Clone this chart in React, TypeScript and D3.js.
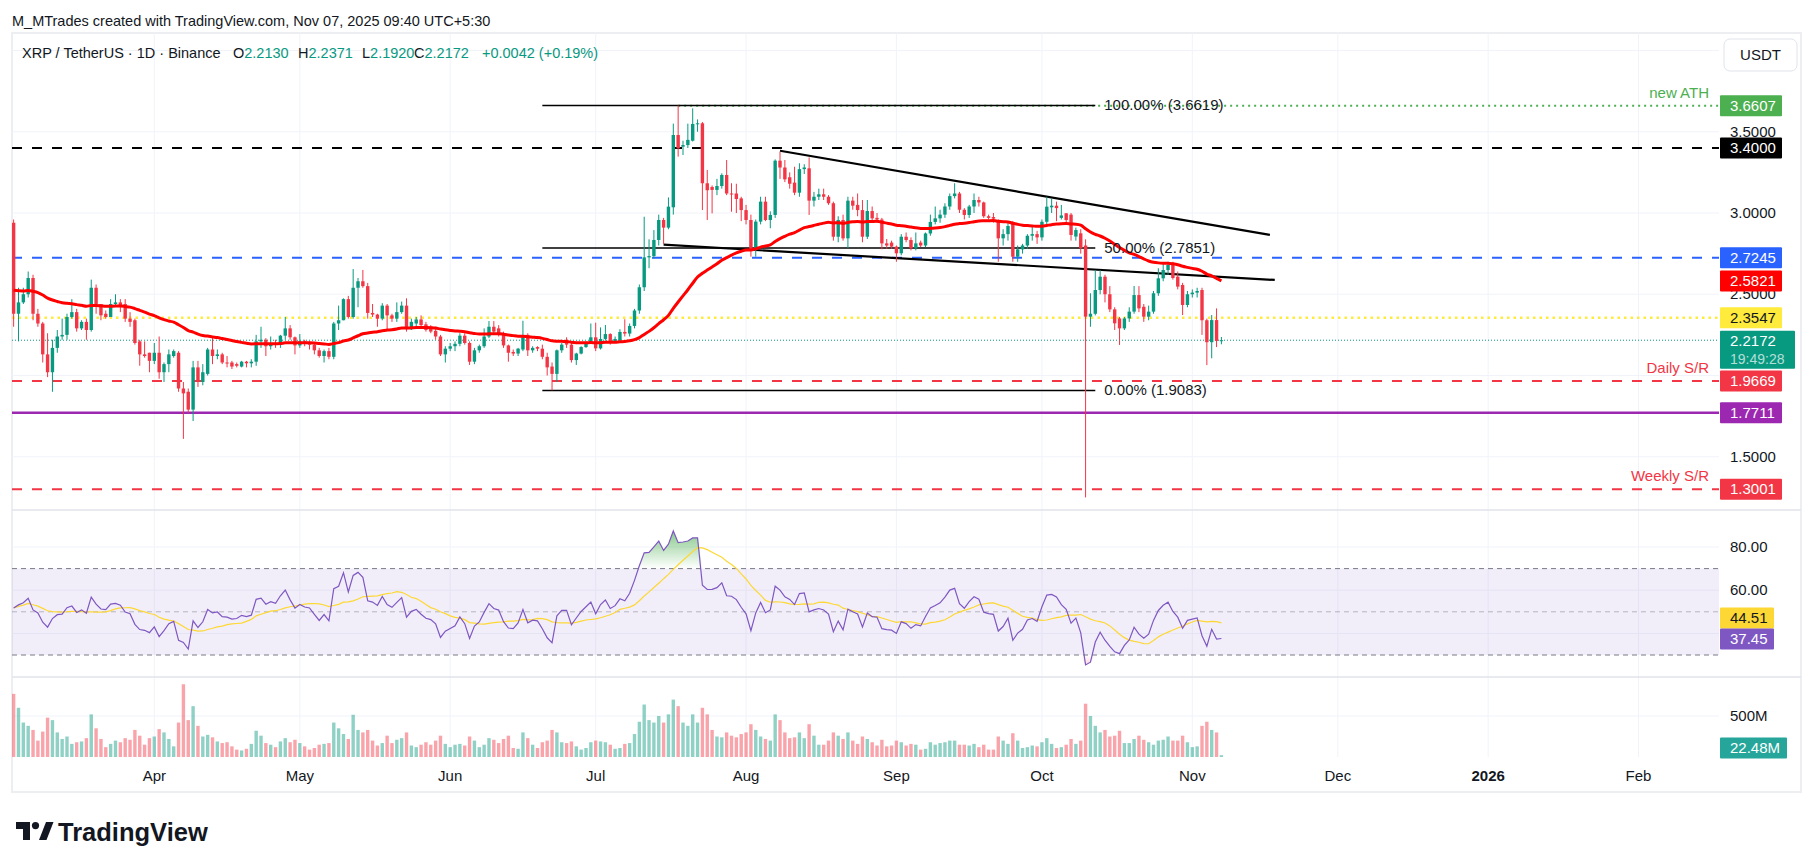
import React, { useMemo } from "react";
import * as d3 from "d3";

const FONT = "'Liberation Sans', Arial, sans-serif";

// ---------------- DATA ----------------
// daily candles: [day, open, high, low, close]
const candlesMar = [
  [3, 2.94, 2.96, 2.3, 2.38], [4, 2.38, 2.54, 2.21, 2.45], [5, 2.45, 2.54, 2.44, 2.5], [6, 2.5, 2.64, 2.48, 2.6],
  [7, 2.6, 2.62, 2.34, 2.38], [8, 2.38, 2.41, 2.3, 2.32], [9, 2.32, 2.33, 2.08, 2.13], [10, 2.13, 2.26, 1.99, 2.02],
  [11, 2.02, 2.22, 1.9, 2.17], [12, 2.17, 2.28, 2.14, 2.24], [13, 2.24, 2.35, 2.22, 2.25], [14, 2.25, 2.38, 2.22, 2.36],
  [15, 2.36, 2.47, 2.35, 2.39], [16, 2.39, 2.41, 2.27, 2.29], [17, 2.29, 2.34, 2.28, 2.33], [18, 2.33, 2.35, 2.22, 2.28],
  [19, 2.28, 2.59, 2.27, 2.54], [20, 2.54, 2.56, 2.38, 2.44], [21, 2.44, 2.44, 2.34, 2.37], [22, 2.38, 2.4, 2.35, 2.36],
  [23, 2.36, 2.47, 2.36, 2.44], [24, 2.44, 2.5, 2.43, 2.45], [25, 2.45, 2.47, 2.39, 2.43], [26, 2.44, 2.47, 2.33, 2.35],
  [27, 2.35, 2.39, 2.3, 2.33], [28, 2.34, 2.35, 2.19, 2.2], [29, 2.21, 2.22, 2.06, 2.13], [30, 2.13, 2.21, 2.11, 2.12],
  [31, 2.14, 2.14, 2.02, 2.09],
];
const candlesApr = [
  [1, 2.09, 2.2, 2.07, 2.14], [2, 2.14, 2.24, 1.98, 2.02], [3, 2.02, 2.08, 1.96, 2.07], [4, 2.07, 2.16, 2.02, 2.13],
  [5, 2.12, 2.16, 2.11, 2.15], [6, 2.14, 2.15, 1.9, 1.92], [7, 1.92, 1.96, 1.61, 1.89], [8, 1.9, 1.92, 1.77, 1.79],
  [9, 1.79, 2.09, 1.72, 2.05], [10, 2.05, 2.09, 1.93, 1.96], [11, 1.96, 2.07, 1.94, 2.02], [12, 2.01, 2.17, 2.0, 2.16],
  [13, 2.16, 2.24, 2.07, 2.12], [14, 2.12, 2.16, 2.1, 2.13], [15, 2.13, 2.14, 2.07, 2.08], [16, 2.08, 2.12, 2.05, 2.075],
  [17, 2.08, 2.09, 2.04, 2.055], [18, 2.07, 2.08, 2.05, 2.06], [19, 2.055, 2.09, 2.05, 2.085], [20, 2.085, 2.09, 2.05, 2.075],
  [21, 2.075, 2.1, 2.05, 2.085], [22, 2.085, 2.25, 2.06, 2.21], [23, 2.21, 2.3, 2.17, 2.22], [24, 2.22, 2.23, 2.12, 2.18],
  [25, 2.18, 2.24, 2.16, 2.2], [26, 2.2, 2.22, 2.17, 2.19], [27, 2.19, 2.25, 2.17, 2.245], [28, 2.245, 2.36, 2.22, 2.29],
  [29, 2.29, 2.31, 2.22, 2.235], [30, 2.235, 2.24, 2.13, 2.185],
];
const candlesMay = [
  [1, 2.185, 2.255, 2.17, 2.21], [2, 2.21, 2.22, 2.18, 2.195], [3, 2.195, 2.21, 2.16, 2.19], [4, 2.19, 2.2, 2.13, 2.155],
  [5, 2.155, 2.17, 2.11, 2.12], [6, 2.12, 2.16, 2.08, 2.15], [7, 2.15, 2.17, 2.1, 2.115], [8, 2.115, 2.33, 2.1, 2.32],
  [9, 2.32, 2.43, 2.28, 2.34], [10, 2.34, 2.475, 2.34, 2.47], [11, 2.47, 2.49, 2.35, 2.36], [12, 2.36, 2.655, 2.35, 2.54],
  [13, 2.54, 2.6, 2.42, 2.58], [14, 2.58, 2.65, 2.54, 2.55], [15, 2.55, 2.57, 2.35, 2.385], [16, 2.385, 2.44, 2.36, 2.375],
  [17, 2.375, 2.38, 2.3, 2.35], [18, 2.35, 2.445, 2.34, 2.43], [19, 2.43, 2.44, 2.285, 2.37], [20, 2.37, 2.38, 2.33, 2.35],
  [21, 2.35, 2.45, 2.33, 2.39], [22, 2.39, 2.455, 2.38, 2.43], [23, 2.43, 2.475, 2.27, 2.285], [24, 2.285, 2.35, 2.28, 2.33],
  [25, 2.32, 2.36, 2.3, 2.345], [26, 2.345, 2.37, 2.3, 2.31], [27, 2.315, 2.33, 2.27, 2.28], [28, 2.3, 2.31, 2.26, 2.27],
  [29, 2.275, 2.3, 2.22, 2.24], [30, 2.24, 2.25, 2.12, 2.13], [31, 2.13, 2.18, 2.08, 2.165],
];
const candlesJun = [
  [1, 2.165, 2.2, 2.15, 2.18], [2, 2.18, 2.21, 2.15, 2.195], [3, 2.195, 2.26, 2.18, 2.245], [4, 2.245, 2.26, 2.19, 2.2],
  [5, 2.2, 2.21, 2.065, 2.085], [6, 2.085, 2.17, 2.07, 2.155], [7, 2.155, 2.19, 2.14, 2.18], [8, 2.18, 2.29, 2.17, 2.24],
  [9, 2.24, 2.335, 2.23, 2.3], [10, 2.3, 2.335, 2.25, 2.27], [11, 2.29, 2.31, 2.24, 2.26], [12, 2.26, 2.27, 2.17, 2.185],
  [13, 2.185, 2.19, 2.085, 2.14], [14, 2.145, 2.16, 2.12, 2.135], [15, 2.135, 2.17, 2.12, 2.165], [16, 2.16, 2.337, 2.15, 2.24],
  [17, 2.25, 2.26, 2.12, 2.155], [18, 2.155, 2.18, 2.14, 2.17], [19, 2.175, 2.18, 2.15, 2.165], [20, 2.165, 2.19, 2.1, 2.115],
  [21, 2.115, 2.14, 2.0, 2.05], [22, 2.055, 2.08, 1.9083, 2.01], [23, 2.01, 2.16, 1.96, 2.155], [24, 2.155, 2.2, 2.14, 2.19],
  [25, 2.22, 2.235, 2.17, 2.19], [26, 2.19, 2.2, 2.08, 2.095], [27, 2.095, 2.14, 2.065, 2.135], [28, 2.135, 2.18, 2.13, 2.175],
  [29, 2.175, 2.21, 2.17, 2.205], [30, 2.205, 2.32, 2.2, 2.235],
];
const candlesJul = [
  [1, 2.235, 2.325, 2.15, 2.167], [2, 2.167, 2.296, 2.16, 2.225], [3, 2.225, 2.311, 2.215, 2.255], [4, 2.255, 2.26, 2.19, 2.208],
  [5, 2.208, 2.24, 2.2, 2.225], [6, 2.215, 2.285, 2.2, 2.268], [7, 2.268, 2.346, 2.24, 2.258], [8, 2.258, 2.32, 2.24, 2.305],
  [9, 2.305, 2.41, 2.29, 2.4], [10, 2.4, 2.56, 2.38, 2.543], [11, 2.543, 2.977, 2.52, 2.727], [12, 2.727, 2.838, 2.66, 2.735],
  [13, 2.735, 2.895, 2.72, 2.834], [14, 2.834, 2.99, 2.8, 2.957], [15, 2.957, 2.97, 2.81, 2.91], [16, 2.91, 3.096, 2.9, 3.039],
  [17, 3.035, 3.55, 2.99, 3.48], [18, 3.48, 3.6619, 3.347, 3.398], [19, 3.408, 3.445, 3.357, 3.418], [20, 3.418, 3.55, 3.4, 3.45],
  [21, 3.445, 3.644, 3.44, 3.548], [22, 3.548, 3.576, 3.5, 3.552], [23, 3.552, 3.56, 3.018, 3.183], [24, 3.183, 3.265, 2.957, 3.14],
  [25, 3.16, 3.17, 2.998, 3.142], [26, 3.142, 3.21, 3.11, 3.166], [27, 3.166, 3.244, 3.15, 3.234], [28, 3.234, 3.326, 3.11, 3.12],
  [29, 3.12, 3.183, 3.008, 3.115], [30, 3.12, 3.18, 3.0, 3.086], [31, 3.09, 3.1, 2.95, 3.018],
];
const candlesAug = [
  [1, 3.018, 3.05, 2.93, 2.957], [2, 2.957, 2.99, 2.731, 2.772], [3, 2.772, 2.96, 2.731, 2.947], [4, 2.947, 3.1, 2.93, 3.07],
  [5, 3.07, 3.1, 2.95, 2.957], [6, 2.957, 3.01, 2.906, 2.988], [7, 2.988, 3.33, 2.97, 3.322], [8, 3.322, 3.377, 3.21, 3.28],
  [9, 3.28, 3.326, 3.19, 3.207], [10, 3.22, 3.25, 3.15, 3.18], [11, 3.187, 3.285, 3.11, 3.125], [12, 3.125, 3.306, 3.1, 3.27],
  [13, 3.27, 3.3, 3.24, 3.28], [14, 3.275, 3.342, 2.988, 3.076], [15, 3.076, 3.13, 3.04, 3.1], [16, 3.1, 3.15, 3.08, 3.115],
  [17, 3.115, 3.15, 3.08, 3.1], [18, 3.1, 3.11, 3.05, 3.06], [19, 3.06, 3.07, 2.83, 2.854], [20, 2.854, 2.98, 2.82, 2.957],
  [21, 2.957, 2.99, 2.83, 2.844], [22, 2.844, 3.1, 2.783, 3.076], [23, 3.076, 3.1, 3.02, 3.045], [24, 3.05, 3.12, 2.98, 3.018],
  [25, 3.018, 3.08, 2.82, 2.854], [26, 2.854, 3.08, 2.84, 3.012], [27, 3.012, 3.04, 2.95, 2.967], [28, 2.97, 3.0, 2.94, 2.96],
  [29, 2.96, 2.97, 2.777, 2.813], [30, 2.813, 2.84, 2.78, 2.8], [31, 2.818, 2.83, 2.78, 2.793],
];
const candlesSep = [
  [1, 2.793, 2.8, 2.7, 2.752], [2, 2.752, 2.87, 2.74, 2.854], [3, 2.854, 2.88, 2.82, 2.834], [4, 2.834, 2.85, 2.77, 2.783],
  [5, 2.783, 2.88, 2.77, 2.813], [6, 2.818, 2.83, 2.79, 2.8], [7, 2.8, 2.88, 2.79, 2.874], [8, 2.874, 2.99, 2.86, 2.945],
  [9, 2.945, 3.04, 2.93, 2.967], [10, 2.967, 3.02, 2.94, 2.99], [11, 2.99, 3.06, 2.97, 3.04], [12, 3.04, 3.12, 3.02, 3.104],
  [13, 3.104, 3.183, 3.09, 3.12], [14, 3.12, 3.13, 3.0, 3.02], [15, 3.02, 3.03, 2.96, 2.988], [16, 2.988, 3.05, 2.97, 3.04],
  [17, 3.04, 3.12, 3.0, 3.08], [18, 3.08, 3.1, 3.04, 3.065], [19, 3.065, 3.07, 2.97, 2.98], [20, 2.98, 2.99, 2.96, 2.97],
  [21, 2.975, 3.0, 2.94, 2.965], [22, 2.957, 2.96, 2.7, 2.844], [23, 2.844, 2.9, 2.8, 2.87], [24, 2.87, 2.94, 2.83, 2.92],
  [25, 2.936, 2.95, 2.7, 2.731], [26, 2.731, 2.8, 2.7, 2.776], [27, 2.776, 2.81, 2.75, 2.8], [28, 2.8, 2.87, 2.78, 2.86],
  [29, 2.86, 2.926, 2.83, 2.87], [30, 2.87, 2.89, 2.81, 2.85],
];
const candlesOct = [
  [1, 2.85, 2.96, 2.83, 2.946], [2, 2.946, 3.1, 2.93, 3.039], [3, 3.035, 3.09, 3.0, 3.045], [4, 3.045, 3.07, 2.95, 3.03],
  [5, 2.97, 3.05, 2.96, 2.985], [6, 2.998, 3.0, 2.93, 2.957], [7, 2.99, 3.0, 2.83, 2.865], [8, 2.855, 2.91, 2.83, 2.895],
  [9, 2.875, 2.9, 2.75, 2.783], [10, 2.8, 2.838, 1.25, 2.362], [11, 2.362, 2.506, 2.3, 2.38], [12, 2.38, 2.649, 2.37, 2.526],
  [13, 2.526, 2.649, 2.5, 2.608], [14, 2.608, 2.62, 2.45, 2.5], [15, 2.5, 2.55, 2.39, 2.407], [16, 2.407, 2.42, 2.28, 2.321],
  [17, 2.351, 2.36, 2.188, 2.29], [18, 2.29, 2.36, 2.28, 2.351], [19, 2.351, 2.42, 2.33, 2.393], [20, 2.393, 2.551, 2.38, 2.495],
  [21, 2.495, 2.55, 2.39, 2.413], [22, 2.423, 2.44, 2.33, 2.362], [23, 2.362, 2.43, 2.34, 2.393], [24, 2.393, 2.52, 2.38, 2.506],
  [25, 2.506, 2.66, 2.49, 2.598], [26, 2.598, 2.69, 2.58, 2.649], [27, 2.649, 2.7, 2.62, 2.68], [28, 2.68, 2.7, 2.59, 2.6],
  [29, 2.608, 2.64, 2.53, 2.547], [30, 2.557, 2.57, 2.372, 2.434], [31, 2.434, 2.52, 2.42, 2.5],
];
const candlesNov = [
  [1, 2.5, 2.53, 2.48, 2.51], [2, 2.51, 2.54, 2.48, 2.52], [3, 2.526, 2.54, 2.25, 2.34], [4, 2.34, 2.35, 2.064, 2.205],
  [5, 2.205, 2.372, 2.106, 2.341], [6, 2.341, 2.413, 2.175, 2.213], [7, 2.213, 2.2371, 2.192, 2.2172],
];

// daily volume, millions of XRP
const volumesMar = [770, 600, 420, 380, 330, 200, 310, 480, 450, 300, 220, 250, 160, 180, 190, 230, 520, 350, 220, 120, 160, 200, 180, 230, 210, 330, 260, 150, 230];
const volumesApr = [250, 340, 300, 220, 130, 420, 887, 450, 620, 380, 250, 270, 240, 190, 170, 180, 130, 90, 80, 100, 160, 320, 260, 170, 150, 120, 190, 230, 180, 210];
const volumesMay = [170, 130, 90, 110, 150, 160, 170, 420, 350, 280, 220, 515, 330, 300, 330, 200, 140, 170, 260, 170, 210, 230, 300, 140, 120, 150, 180, 150, 200, 260, 160];
const volumesJun = [120, 150, 160, 140, 250, 200, 120, 150, 230, 210, 170, 220, 260, 110, 100, 300, 230, 150, 110, 180, 200, 330, 300, 180, 170, 190, 130, 90, 110, 180];
const volumesJul = [200, 190, 180, 150, 100, 110, 160, 170, 280, 430, 640, 450, 420, 500, 420, 520, 700, 620, 420, 380, 520, 420, 600, 520, 330, 250, 240, 300, 260, 240, 280];
const volumesAug = [300, 400, 330, 250, 220, 200, 520, 450, 300, 230, 240, 300, 230, 400, 260, 150, 150, 200, 300, 260, 220, 300, 200, 160, 250, 220, 180, 140, 210, 130, 140];
const volumesSep = [200, 180, 140, 160, 150, 90, 100, 180, 150, 170, 180, 200, 200, 150, 150, 140, 160, 120, 150, 90, 90, 250, 200, 160, 290, 200, 110, 120, 140, 130];
const volumesOct = [180, 230, 160, 110, 120, 150, 220, 160, 200, 650, 500, 380, 300, 330, 250, 260, 320, 170, 170, 220, 260, 210, 180, 150, 200, 210, 250, 200, 200, 260, 180];
const volumesNov = [120, 130, 380, 430, 330, 300, 22.48];

const monthTable = [
  { month: 2, candles: candlesMar, volumes: volumesMar },
  { month: 3, candles: candlesApr, volumes: volumesApr },
  { month: 4, candles: candlesMay, volumes: volumesMay },
  { month: 5, candles: candlesJun, volumes: volumesJun },
  { month: 6, candles: candlesJul, volumes: volumesJul },
  { month: 7, candles: candlesAug, volumes: volumesAug },
  { month: 8, candles: candlesSep, volumes: volumesSep },
  { month: 9, candles: candlesOct, volumes: volumesOct },
  { month: 10, candles: candlesNov, volumes: volumesNov },
];

// indicator settings / seeds
const emaLength = 50;
const emaSeed = 2.53;
const rsiLength = 14;
const rsiSeedGain = 0.1;
const rsiSeedLoss = 0.05;

// horizontal levels
const levelPrices = [3.6607, 3.4, 2.7245, 2.3547, 2.2172, 1.9669, 1.7711, 1.3001];
const levelLabels = ["3.6607", "3.4000", "2.7245", "2.3547", "2.2172", "1.9669", "1.7711", "1.3001"];
const levelNotes = ["new ATH", "", "", "", "", "Daily S/R", "", "Weekly S/R"];
const emaLabel = { price: 2.5821, text: "2.5821" };
const countdownText = "19:49:28";

// fibonacci
const fibLow = 1.9083;
const fibHigh = 3.6619;
const fibLevels = [1, 0.5, 0];
const fibStart = "2025-06-20";
const fibEnd = "2025-10-12";
const athStart = "2025-07-18";

// wedge trendlines: [date, price]
const upperTrend = [["2025-08-08", 3.383], ["2025-11-17", 2.865]];
const lowerTrend = [["2025-07-15", 2.805], ["2025-11-18", 2.588]];

const priceTicks = [4.0, 3.5, 3.0, 2.5, 2.0, 1.5];
const priceTickLabels = [3.5, 3.0, 2.5, 1.5];
const rsiTicks = [80, 60, 40];
const rsiTickLabels = [80, 60];
const volTicks = [500];
const timeTicks = [
  ["2025-04-01", "Apr"], ["2025-05-01", "May"], ["2025-06-01", "Jun"], ["2025-07-01", "Jul"],
  ["2025-08-01", "Aug"], ["2025-09-01", "Sep"], ["2025-10-01", "Oct"], ["2025-11-01", "Nov"],
  ["2025-12-01", "Dec"], ["2026-01-01", "2026"], ["2026-02-01", "Feb"],
];
const rsiLast = { rsi: 37.45, ma: 44.51 };
const volLastLabel = "22.48M";

// ---------------- LAYOUT ----------------
const W = 1814, H = 868;
const PL = 12, PR = 1719, FR = 1801;
const PT = 33, PB = 510, RT = 510, RB = 677, VT = 677, VB = 757, FB = 792;
const UP = "#089981", DN = "#f23645";

function d(s: string) { return new Date(s + "T00:00:00Z"); }

export default function App() {
  const model = useMemo(() => {
    const rows: any[] = [];
    monthTable.forEach(({ month, candles, volumes }) => {
      candles.forEach((c, i) => {
        rows.push({ date: new Date(Date.UTC(2025, month, c[0])), o: c[1], h: c[2], l: c[3], c: c[4], v: volumes[i] });
      });
    });
    const a = 2 / (emaLength + 1);
    let e = emaSeed;
    rows.forEach(r => { e = e + a * (r.c - e); r.ema = e; });
    let ag = rsiSeedGain, al = rsiSeedLoss, prev = rows[0].o;
    rows.forEach(r => {
      const ch = r.c - prev; prev = r.c;
      ag = (ag * (rsiLength - 1) + Math.max(ch, 0)) / rsiLength;
      al = (al * (rsiLength - 1) + Math.max(-ch, 0)) / rsiLength;
      r.rsi = 100 - 100 / (1 + ag / al);
    });
    rows.forEach((r, i) => {
      const s = rows.slice(Math.max(0, i - rsiLength + 1), i + 1);
      r.rsiMa = d3.mean(s, q => q.rsi);
    });
    return rows;
  }, []);

  const x = d3.scaleUtc().domain([d("2025-04-01"), d("2025-11-01")]).range([154.3, 1192.3]);
  const y = d3.scaleLinear().domain([3.0, 1.5]).range([213, 456.75]);
  const yR = d3.scaleLinear().domain([80, 30]).range([547, 655]);
  const yV = d3.scaleLinear().domain([0, 500]).range([VB, 716]);
  const bw = 3.4;

  const emaLine = d3.line<any>().x(r => x(r.date)).y(r => y(r.ema)).curve(d3.curveMonotoneX);
  const rsiLine = d3.line<any>().x(r => x(r.date)).y(r => yR(r.rsi));
  const rsiMaLine = d3.line<any>().x(r => x(r.date)).y(r => yR(r.rsiMa));
  const obArea = d3.area<any>().x(r => x(r.date)).y0(yR(70)).y1(r => yR(Math.max(70, r.rsi)));
  const osArea = d3.area<any>().x(r => x(r.date)).y0(yR(30)).y1(r => yR(Math.min(30, r.rsi)));

  const levelStyle = [
    { color: "#4caf50", w: 2, dash: "2 4", from: athStart, box: "#4caf50", txt: "#fff" },
    { color: "#000000", w: 2, dash: "10 10", box: "#000000", txt: "#fff" },
    { color: "#2962ff", w: 2, dash: "10 10", box: "#2962ff", txt: "#fff" },
    { color: "#ffeb3b", w: 2.5, dash: "2.5 4", box: "#ffeb3b", txt: "#131722" },
    { color: "#089981", w: 1, dash: "1 2", box: "#089981", txt: "#fff" },
    { color: "#f23645", w: 2, dash: "10 10", box: "#f23645", txt: "#fff" },
    { color: "#9c27b0", w: 2.5, dash: "", box: "#9c27b0", txt: "#fff" },
    { color: "#f23645", w: 2, dash: "10 10", box: "#f23645", txt: "#fff" },
  ];

  const fibX0 = x(d(fibStart)), fibX1 = x(d(fibEnd));

  const box = (cy: number, bg: string, fg: string, text: string, w = 62, key?: string) => (
    <g key={key || text + cy}>
      <rect x={1720} y={cy - 10.5} width={w} height={21} fill={bg} rx={1} />
      <text x={1730} y={cy + 5.2} fill={fg} fontSize={15} fontFamily={FONT}>{text}</text>
    </g>
  );

  // RSI label collision: keep RSI label at its value, push MA label up
  const rsiLabY = yR(rsiLast.rsi);
  const maLabY = Math.min(yR(rsiLast.ma), rsiLabY - 21);

  const last = model[model.length - 1];

  return (
    <svg width={W} height={H} viewBox={`0 0 ${W} ${H}`} style={{ position: "absolute", left: 0, top: 0, background: "#fff" }}>
      <defs>
        <clipPath id="clipP"><rect x={PL} y={PT} width={PR - PL} height={PB - PT} /></clipPath>
        <clipPath id="clipR"><rect x={PL} y={RT} width={PR - PL} height={RB - RT} /></clipPath>
        <clipPath id="clipV"><rect x={PL} y={VT} width={PR - PL} height={VB - VT} /></clipPath>
        <linearGradient id="obG" gradientUnits="userSpaceOnUse" x1={0} x2={0} y1={yR(92)} y2={yR(70)}>
          <stop offset="0" stopColor="#4caf50" stopOpacity={0.85} />
          <stop offset="1" stopColor="#4caf50" stopOpacity={0} />
        </linearGradient>
        <linearGradient id="osG" gradientUnits="userSpaceOnUse" x1={0} x2={0} y1={yR(30)} y2={yR(10)}>
          <stop offset="0" stopColor="#f23645" stopOpacity={0} />
          <stop offset="1" stopColor="#f23645" stopOpacity={0.85} />
        </linearGradient>
      </defs>
      <rect x={0} y={0} width={W} height={H} fill="#fff" />

      <text x={12} y={25.5} fontSize={14.5} fill="#131722" fontFamily={FONT}>
        M_MTrades created with TradingView.com, Nov 07, 2025 09:40 UTC+5:30
      </text>

      <rect x={PL} y={PT} width={FR - PL} height={FB - PT} fill="none" stroke="#eceef2" strokeWidth={2} />

      {timeTicks.map(([s]) => (
        <line key={"vg" + s} x1={x(d(s))} x2={x(d(s))} y1={PT} y2={VB} stroke="#f0f3fa" strokeWidth={1} />
      ))}
      {priceTicks.map(p => <line key={"pg" + p} x1={PL} x2={PR} y1={y(p)} y2={y(p)} stroke="#f0f3fa" />)}
      {rsiTicks.map(p => <line key={"rg" + p} x1={PL} x2={PR} y1={yR(p)} y2={yR(p)} stroke="#f0f3fa" />)}
      {volTicks.map(p => <line key={"vgt" + p} x1={PL} x2={PR} y1={yV(p)} y2={yV(p)} stroke="#f0f3fa" />)}

      <line x1={PL} x2={FR} y1={PB} y2={PB} stroke="#e0e3eb" strokeWidth={1.5} />
      <line x1={PL} x2={FR} y1={RB} y2={RB} stroke="#e0e3eb" strokeWidth={1.5} />

      <text y={58} fontSize={14.5} fontFamily={FONT} fill="#131722">
        <tspan x={22}>XRP / TetherUS · 1D · Binance</tspan>
        <tspan x={233}>O</tspan><tspan fill={UP}>{last.o.toFixed(4)}</tspan>
        <tspan x={298}>H</tspan><tspan fill={UP}>{last.h.toFixed(4)}</tspan>
        <tspan x={362}>L</tspan><tspan fill={UP}>{last.l.toFixed(4)}</tspan>
        <tspan x={414}>C</tspan><tspan fill={UP}>{last.c.toFixed(4)}</tspan>
        <tspan x={482} fill={UP}>+0.0042 (+0.19%)</tspan>
      </text>

      <g clipPath="url(#clipP)">
        {levelPrices.map((p, i) => {
          const st = levelStyle[i];
          const x0 = st.from ? x(d(st.from)) : PL;
          return <line key={"lv" + i} x1={x0} x2={PR} y1={y(p)} y2={y(p)} stroke={st.color} strokeWidth={st.w} strokeDasharray={st.dash || undefined} />;
        })}
        {fibLevels.map(lv => {
          const p = fibLow + lv * (fibHigh - fibLow);
          return <line key={"fib" + lv} x1={fibX0} x2={fibX1} y1={y(p)} y2={y(p)} stroke="#000" strokeWidth={1.5} />;
        })}
        {[upperTrend, lowerTrend].map((t, i) => (
          <line key={"tr" + i} x1={x(d(t[0][0] as string))} y1={y(t[0][1] as number)} x2={x(d(t[1][0] as string))} y2={y(t[1][1] as number)} stroke="#000" strokeWidth={2.2} />
        ))}
        {model.map((r, i) => {
          const cx = x(r.date);
          const col = r.c >= r.o ? UP : DN;
          const top = y(Math.max(r.o, r.c)), bot = y(Math.min(r.o, r.c));
          return (
            <g key={"c" + i}>
              <line x1={cx} x2={cx} y1={y(r.h)} y2={y(r.l)} stroke={col} strokeWidth={1} />
              <rect x={cx - bw / 2} y={top} width={bw} height={Math.max(1, bot - top)} fill={col} />
            </g>
          );
        })}
        <path d={emaLine(model) || ""} fill="none" stroke="#ff0000" strokeWidth={3} strokeLinejoin="round" />
      </g>

      {fibLevels.map(lv => {
        const p = fibLow + lv * (fibHigh - fibLow);
        return (
          <text key={"fl" + lv} x={fibX1 + 9} y={y(p) + 5} fontSize={15} fontFamily={FONT} fill="#131722">
            {`${(lv * 100).toFixed(2)}% (${p.toFixed(4)})`}
          </text>
        );
      })}
      {levelPrices.map((p, i) => levelNotes[i] ? (
        <text key={"ln" + i} x={1709} y={y(p) - 8} textAnchor="end" fontSize={15} fontFamily={FONT} fill={levelStyle[i].color}>{levelNotes[i]}</text>
      ) : null)}

      <g clipPath="url(#clipR)">
        <rect x={PL} y={yR(70)} width={PR - PL} height={yR(30) - yR(70)} fill="rgba(126,87,194,0.1)" />
        <line x1={PL} x2={PR} y1={yR(70)} y2={yR(70)} stroke="#787b86" strokeDasharray="5 4" />
        <line x1={PL} x2={PR} y1={yR(50)} y2={yR(50)} stroke="rgba(120,123,134,0.5)" strokeDasharray="5 4" />
        <line x1={PL} x2={PR} y1={yR(30)} y2={yR(30)} stroke="#787b86" strokeDasharray="5 4" />
        <path d={obArea(model) || ""} fill="url(#obG)" />
        <path d={osArea(model) || ""} fill="url(#osG)" />
        <path d={rsiMaLine(model) || ""} fill="none" stroke="#fdd835" strokeWidth={1.2} />
        <path d={rsiLine(model) || ""} fill="none" stroke="#7e57c2" strokeWidth={1.2} />
      </g>

      <g clipPath="url(#clipV)">
        {model.map((r, i) => {
          const cx = x(r.date);
          return <rect key={"v" + i} x={cx - bw / 2} y={yV(r.v)} width={bw} height={VB - yV(r.v)} fill={r.c >= r.o ? "rgba(8,153,129,0.45)" : "rgba(242,54,69,0.45)"} />;
        })}
      </g>

      {priceTickLabels.map(p => (
        <text key={"pt" + p} x={1730} y={y(p) + 5.2} fontSize={15} fontFamily={FONT} fill="#131722">{p.toFixed(4)}</text>
      ))}
      {rsiTickLabels.map(p => (
        <text key={"rt" + p} x={1730} y={yR(p) + 5.2} fontSize={15} fontFamily={FONT} fill="#131722">{p.toFixed(2)}</text>
      ))}
      {volTicks.map(p => (
        <text key={"vt" + p} x={1730} y={yV(p) + 5.2} fontSize={15} fontFamily={FONT} fill="#131722">{p}M</text>
      ))}

      <rect x={1724} y={39} width={73} height={32} rx={6} fill="#fff" stroke="#e0e3eb" />
      <text x={1760.5} y={60} textAnchor="middle" fontSize={15} fontFamily={FONT} fill="#131722">USDT</text>

      {levelPrices.map((p, i) => {
        const st = levelStyle[i];
        if (i === 4) {
          return (
            <g key="cur">
              <rect x={1720} y={y(p) - 9.5} width={75} height={38} fill={st.box} rx={1} />
              <text x={1730} y={y(p) + 5.5} fill="#fff" fontSize={15} fontFamily={FONT}>{levelLabels[i]}</text>
              <text x={1730} y={y(p) + 23.5} fill="rgba(255,255,255,0.7)" fontSize={14} fontFamily={FONT}>{countdownText}</text>
            </g>
          );
        }
        return box(y(p), st.box, st.txt, levelLabels[i], 62, "lb" + i);
      })}
      {box(y(emaLabel.price), "#ff0000", "#fff", emaLabel.text, 62, "ema")}
      {box(maLabY, "#fdd835", "#131722", rsiLast.ma.toFixed(2), 54, "rma")}
      {box(rsiLabY, "#7e57c2", "#fff", rsiLast.rsi.toFixed(2), 54, "rsi")}
      {box(748, "#26a69a", "#fff", volLastLabel, 67, "vl")}

      {timeTicks.map(([s, lab]) => (
        <text key={"tt" + s} x={x(d(s))} y={781} textAnchor="middle" fontSize={15} fontFamily={FONT} fill="#131722" fontWeight={lab === "2026" ? "bold" : "normal"}>{lab}</text>
      ))}

      <g transform="translate(16,822)" fill="#131722">
        <path d="M0 0 H14 V18 H7 V7 H0 Z" />
        <circle cx={19.5} cy={3.6} r={3.6} />
        <path d="M23 18 L30 0 H37.5 L30.5 18 Z" />
      </g>
      <text x={58} y={841} fontSize={25.5} fontWeight="bold" fontFamily={FONT} fill="#131722">TradingView</text>
    </svg>
  );
}
